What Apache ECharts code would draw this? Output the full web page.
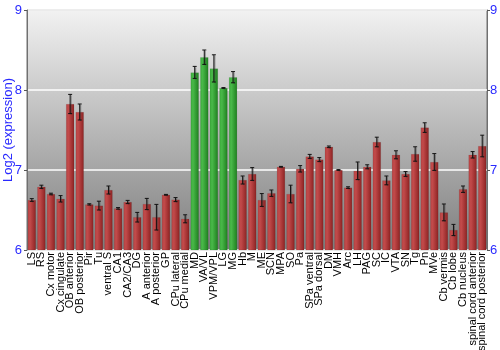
<!DOCTYPE html>
<html><head><meta charset="utf-8">
<script src="https://cdn.jsdelivr.net/npm/echarts@6/dist/echarts.min.js"></script>
<style>html,body{margin:0;padding:0;background:#fff}#c{width:500px;height:350px}</style>
</head><body><div id="c"></div>
<script>
const categories = ["LS","RS","Cx motor","Cx cingulate","OB anterior","OB posterior","Pir","Tu","ventral S","CA1","CA2/CA3","DG","A anterior","A posterior","GP","CPu lateral","CPu medial","MD","VA/VL","VPM/VPL","LG","MG","Hb","M","ME","SCN","MPA","SO","Pa","SPa ventral","SPa dorsal","DM","VMH","Arc","LH","PAG","SC","IC","VTA","SN","Tg","Pn","MVe","Cb vermis","Cb lobe","Cb nucleus","spinal cord anterior","spinal cord posterior"];
const values = [6.625,6.79,6.70,6.64,7.825,7.725,6.57,6.555,6.75,6.52,6.60,6.41,6.575,6.41,6.69,6.63,6.39,8.22,8.41,8.27,8.025,8.16,6.875,6.95,6.625,6.71,7.04,6.70,7.015,7.17,7.13,7.29,7.00,6.78,6.99,7.04,7.35,6.87,7.19,6.95,7.20,7.53,7.10,6.47,6.25,6.76,7.19,7.30];
const errors = [0.017,0.02,0.01,0.04,0.12,0.10,0.008,0.055,0.05,0.01,0.02,0.06,0.07,0.16,0.005,0.025,0.05,0.075,0.09,0.17,0.005,0.07,0.05,0.08,0.08,0.04,0.005,0.11,0.04,0.025,0.025,0.01,0.005,0.01,0.11,0.025,0.06,0.055,0.05,0.03,0.09,0.06,0.105,0.105,0.07,0.04,0.04,0.135];
const highlighted = ["MD","VA/VL","VPM/VPL","LG","MG"];
const yTicks = [6,7,8,9];

const redGrad = new echarts.graphic.LinearGradient(0,0,1,0,[{offset:0,color:'#b84444'},{offset:0.3,color:'#c24a4a'},{offset:1,color:'#8c2222'}]);
const greenGrad = new echarts.graphic.LinearGradient(0,0,1,0,[{offset:0,color:'#3cac3c'},{offset:0.3,color:'#48b848'},{offset:1,color:'#1e7e1e'}]);

const chart = echarts.init(document.getElementById('c'), null, {renderer:'canvas'});
chart.setOption({
  animation:false,
  grid:{left:27,right:13,top:10,bottom:100,containLabel:false,outerBoundsMode:'none',show:true,borderColor:'#707070',borderWidth:1,
    backgroundColor:new echarts.graphic.LinearGradient(0,0,0,1,[{offset:0,color:'#f2f2f2'},{offset:1,color:'#7e7e7e'}])},
  xAxis:{type:'category',data:categories,
    axisLine:{show:false},axisTick:{show:false},
    axisLabel:{rotate:90,interval:0,fontSize:11,color:'#000',fontFamily:'Liberation Sans, Arial, sans-serif',margin:2}},
  yAxis:[{type:'value',min:yTicks[0],max:yTicks[yTicks.length-1],interval:1,position:'left',
    name:'Log2 (expression)',nameLocation:'middle',nameGap:12,nameRotate:90,nameMoveOverlap:false,
    nameTextStyle:{color:'#2a2aff',fontSize:13,fontFamily:'Liberation Sans, Arial, sans-serif'},
    axisLine:{show:true,lineStyle:{color:'#707070'}},axisTick:{show:true,length:3,inside:false,lineStyle:{color:'#555'}},
    axisLabel:{color:'#2a2aff',fontSize:13,margin:5,fontFamily:'Liberation Sans, Arial, sans-serif'},
    splitLine:{show:true,lineStyle:{color:'rgba(255,255,255,0.75)',width:2}}},
   {type:'value',min:yTicks[0],max:yTicks[yTicks.length-1],interval:1,position:'right',
    axisLine:{show:true,lineStyle:{color:'#707070'}},axisTick:{show:true,length:3,lineStyle:{color:'#555'}},
    axisLabel:{color:'#2a2aff',fontSize:13,margin:3,fontFamily:'Liberation Sans, Arial, sans-serif'},
    splitLine:{show:false}}],
  series:[{type:'bar',data:values.map((v,i)=>({value:v,itemStyle:{color:highlighted.includes(categories[i])?greenGrad:redGrad}})),
    barWidth:'86%',itemStyle:{borderColor:'rgba(0,0,0,0.15)',borderWidth:0.5}},
   {type:'custom',data:values.map((v,i)=>[i,v-errors[i],v+errors[i]]),z:10,
    renderItem:function(params,api){
      const x=api.coord([api.value(0),api.value(1)])[0];
      const lo=api.coord([api.value(0),api.value(1)])[1];
      const hi=api.coord([api.value(0),api.value(2)])[1];
      const c=2;
      const st={stroke:'#111',lineWidth:1};
      const sh={stroke:'rgba(60,60,60,0.5)',lineWidth:1};
      return {type:'group',children:[
        {type:'line',shape:{x1:x+1,y1:hi+1,x2:x+1,y2:lo+1},style:sh},
        {type:'line',shape:{x1:x,y1:hi,x2:x,y2:lo},style:st},
        {type:'line',shape:{x1:x-c,y1:hi,x2:x+c,y2:hi},style:st},
        {type:'line',shape:{x1:x-c,y1:lo,x2:x+c,y2:lo},style:st}]};
    }}]
});
</script></body></html>
